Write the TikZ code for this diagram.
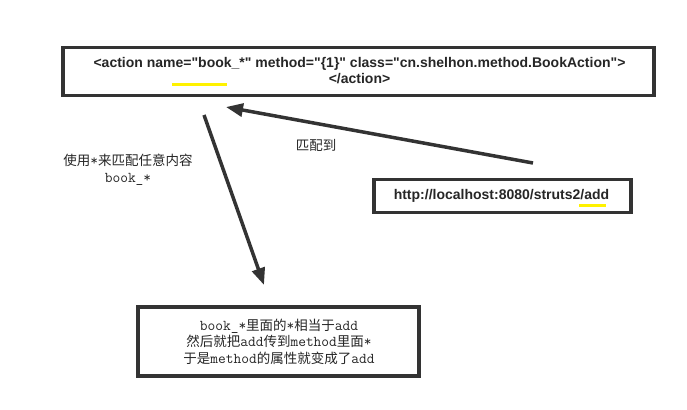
\documentclass[tikz,border=0pt]{standalone}
\usepackage{fontspec}
\setmainfont{Liberation Sans}
\newfontfamily\cjk{Noto Sans CJK SC}
\newcommand\mlat[1]{{\ttfamily\fontsize{15}{16.5}\selectfont #1}}
\newcommand\dq{\textquotedbl}
\usetikzlibrary{arrows.meta}
\tikzset{
  box/.style={draw=black!80, line width=3.5pt, fill=white, inner sep=0pt},
  arr/.style={draw=black!80, line width=3.5pt, -{Triangle[length=17pt,width=13pt]}},
  hilite/.style={draw=yellow, line width=3pt},
  codetext/.style={font=\bfseries\fontsize{14}{16}\selectfont, text=black!85},
  cjktext/.style={font=\cjk\fontsize{13.5}{16.5}\selectfont, align=center, text=black!85}
}
\begin{document}
\begin{tikzpicture}[x=1pt,y=-1pt]
    \useasboundingbox (0,0) rectangle (687,409);
    % boxes
    \node[box, minimum width=591pt, minimum height=48pt] (action) at (358.5,71.5) {};
    \node[box, minimum width=257pt, minimum height=33pt] (url) at (502.5,196) {};
    \node[box, minimum width=281pt, minimum height=69pt] (note) at (278.5,341.5) {};
    % texts
    \node[codetext, align=center] (actiontext) at (359.5,71)
        {<action name=\dq book\_*\dq\ method=\dq\{1\}\dq\ class=\dq cn.shelhon.method.BookAction\dq>\\</action>};
    \node[codetext] (urltext) at (501.5,196) {http://localhost:8080/struts2/add};
    \node[cjktext] (notetext) at (279,341.5)
        {\mlat{book\_*}里面的\mlat{*}相当于\mlat{add}\\然后就把\mlat{add}传到\mlat{method}里面\mlat{*}\\于是\mlat{method}的属性就变成了\mlat{add}};
    \node[cjktext, text width=150pt] (wildcard) at (128,170)
        {使用\mlat{*}来匹配任意内容\\\mlat{book\_*}};
    \node[cjktext] (matched) at (316,145) {匹配到};
    % yellow marks
    \coordinate (m1) at (172,85);
    \coordinate (m2) at (227,85);
    \coordinate (m3) at (579,205);
    \coordinate (m4) at (606,205);
    \draw[hilite] (m1) -- (m2);
    \draw[hilite] (m3) -- (m4);
    % arrows
    \coordinate (a1) at (533,163);
    \coordinate (a2) at (226,107);
    \coordinate (b1) at (204,115);
    \coordinate (b2) at (264,285);
    \draw[arr] (a1) -- (a2);
    \draw[arr] (b1) -- (b2);
\end{tikzpicture}
\end{document}
